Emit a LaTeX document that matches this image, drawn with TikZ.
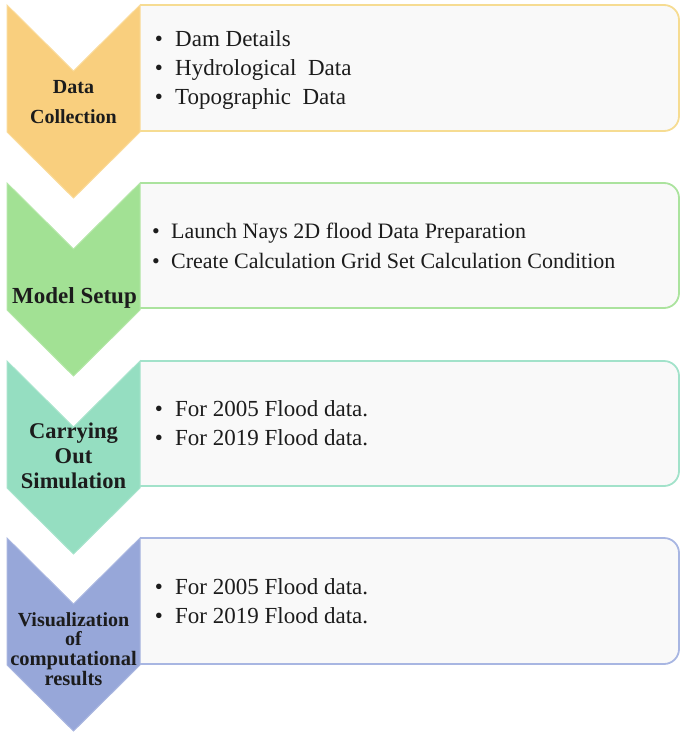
\documentclass[tikz,border=0pt]{standalone}
\usepackage{fontspec}
\setmainfont{Liberation Serif}

\definecolor{ink}{HTML}{1C1C1C}
\definecolor{panelfill}{HTML}{F9F9F9}
\definecolor{chevA}{HTML}{F9CF7E}
\definecolor{chevAedge}{HTML}{FADB9A}
\definecolor{lineA}{HTML}{F6DC92}
\definecolor{chevB}{HTML}{A2E194}
\definecolor{chevBedge}{HTML}{B4E7A8}
\definecolor{lineB}{HTML}{ABE39E}
\definecolor{chevC}{HTML}{95DEC1}
\definecolor{chevCedge}{HTML}{A8E4CD}
\definecolor{lineC}{HTML}{A2E2CA}
\definecolor{chevD}{HTML}{97A7D9}
\definecolor{chevDedge}{HTML}{A9B6E0}
\definecolor{lineD}{HTML}{A8B6E2}

\tikzset{
  chevron/.style={line width=1pt, line join=miter},
  panel/.style={fill=panelfill, line width=1.8pt, rounded corners=15pt},
  lbl/.style={font=\bfseries\fontsize{20}{20}\selectfont, text=ink, inner sep=0pt, anchor=base},
  itm/.style={font=\fontsize{23}{23}\selectfont, text=ink, inner sep=0pt, anchor=base west},
  dot/.style={font=\fontsize{23}{23}\selectfont, text=ink, inner sep=0pt, anchor=base},
}

% chevron with top edge at y=#1
\newcommand{\chevpath}[1]{(7,#1) -- (73.5,#1+66) -- (140,#1) -- (140,#1+127) -- (73.5,#1+193) -- (7,#1+127) -- cycle}

\begin{document}
\begin{tikzpicture}[x=1pt,y=-1pt]
\useasboundingbox (0,0) rectangle (680,734);

% text panels (left edge hidden behind the chevrons)
\begin{scope}
  \clip (140,0) rectangle (680,734);
  \draw[panel, draw=lineA] (110,5) rectangle (679,131);
  \draw[panel, draw=lineB] (110,183) rectangle (679,308);
  \draw[panel, draw=lineC] (110,361) rectangle (679,486);
  \draw[panel, draw=lineD] (110,538) rectangle (679,664);
\end{scope}

% chevrons
\filldraw[chevron, fill=chevA, draw=chevAedge] \chevpath{5};
\filldraw[chevron, fill=chevB, draw=chevBedge] \chevpath{183};
\filldraw[chevron, fill=chevC, draw=chevCedge] \chevpath{361};
\filldraw[chevron, fill=chevD, draw=chevDedge] \chevpath{538};

% step labels
\node[lbl] (s1a) at (73.5,93) {Data};
\node[lbl] (s1b) at (73.5,123) {Collection};
\node[lbl, font=\bfseries\fontsize{23}{23}\selectfont] (s2a) at (74.5,303) {Model Setup};
\node[lbl, font=\bfseries\fontsize{22.5}{22.5}\selectfont] (s3a) at (73.5,438) {Carrying};
\node[lbl, font=\bfseries\fontsize{22.5}{22.5}\selectfont] (s3b) at (73.5,463) {Out};
\node[lbl, font=\bfseries\fontsize{22.5}{22.5}\selectfont] (s3c) at (73.5,488) {Simulation};
\node[lbl, font=\bfseries\fontsize{20}{20}\selectfont] (s4a) at (73.5,626) {Visualization};
\node[lbl, font=\bfseries\fontsize{20}{20}\selectfont] (s4b) at (73.5,645.5) {of};
\node[lbl, font=\bfseries\fontsize{20.5}{20.5}\selectfont] (s4c) at (73.5,665) {computational};
\node[lbl, font=\bfseries\fontsize{20.5}{20.5}\selectfont] (s4d) at (73.5,685) {results};

% panel 1
\node[dot] (b1a) at (159,46) {•};
\node[itm] (t1a) at (175,46) {Dam Details};
\node[dot] (b1b) at (159,75) {•};
\node[itm] (t1b) at (175,75) {Hydrological\ \ Data};
\node[dot] (b1c) at (159,104) {•};
\node[itm] (t1c) at (175,104) {Topographic\ \ Data};

% panel 2
\node[dot, font=\fontsize{22}{22}\selectfont] (b2a) at (156,238) {•};
\node[itm, font=\fontsize{22}{22}\selectfont] (t2a) at (171,238) {Launch Nays 2D flood Data Preparation};
\node[dot, font=\fontsize{22}{22}\selectfont] (b2b) at (156,268) {•};
\node[itm, font=\fontsize{22}{22}\selectfont] (t2b) at (171,268) {Create Calculation Grid Set Calculation Condition};

% panel 3
\node[dot] (b3a) at (159,416) {•};
\node[itm] (t3a) at (175,416) {For 2005 Flood data.};
\node[dot] (b3b) at (159,445) {•};
\node[itm] (t3b) at (175,445) {For 2019 Flood data.};

% panel 4
\node[dot] (b4a) at (159,594) {•};
\node[itm] (t4a) at (175,594) {For 2005 Flood data.};
\node[dot] (b4b) at (159,623) {•};
\node[itm] (t4b) at (175,623) {For 2019 Flood data.};
\end{tikzpicture}
\end{document}
